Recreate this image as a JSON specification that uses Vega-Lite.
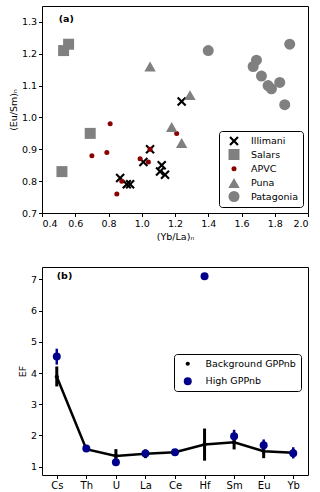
{
  "$schema": "https://vega.github.io/schema/vega-lite/v6.json",
  "padding": {"left": 7, "top": 5, "right": 6, "bottom": 2},
  "spacing": 25,
  "resolve": {"scale": {"color": "independent", "size": "independent", "shape": "independent"}, "legend": {"color": "independent", "size": "independent", "shape": "independent"}},
  "config": {
    "font": "DejaVu Sans",
    "view": {"stroke": "black", "strokeWidth": 1},
    "axis": {"grid": false, "domain": false, "tickColor": "black", "tickSize": 3.5, "labelColor": "black", "labelFontSize": 9.5, "titleFontSize": 9.5, "titleFontWeight": "normal", "titleColor": "black", "labelFont": "DejaVu Sans", "titleFont": "DejaVu Sans", "labelPadding": 2, "titlePadding": 3}
  },
  "vconcat": [
    {
      "width": 266,
      "height": 207,
      "data": {"values": [
        {"g": "Illimani", "x": 0.87, "y": 0.81},
        {"g": "Illimani", "x": 0.91, "y": 0.79},
        {"g": "Illimani", "x": 0.93, "y": 0.79},
        {"g": "Illimani", "x": 1.01, "y": 0.86},
        {"g": "Illimani", "x": 1.05, "y": 0.90},
        {"g": "Illimani", "x": 1.12, "y": 0.85},
        {"g": "Illimani", "x": 1.11, "y": 0.83},
        {"g": "Illimani", "x": 1.14, "y": 0.82},
        {"g": "Illimani", "x": 1.24, "y": 1.05},
        {"g": "Salars", "x": 0.53, "y": 1.21},
        {"g": "Salars", "x": 0.56, "y": 1.23},
        {"g": "Salars", "x": 0.69, "y": 0.95},
        {"g": "Salars", "x": 0.52, "y": 0.83},
        {"g": "APVC", "x": 0.81, "y": 0.98},
        {"g": "APVC", "x": 0.70, "y": 0.88},
        {"g": "APVC", "x": 0.79, "y": 0.89},
        {"g": "APVC", "x": 0.88, "y": 0.80},
        {"g": "APVC", "x": 0.85, "y": 0.76},
        {"g": "APVC", "x": 0.99, "y": 0.87},
        {"g": "APVC", "x": 1.04, "y": 0.86},
        {"g": "APVC", "x": 1.05, "y": 0.90},
        {"g": "APVC", "x": 1.21, "y": 0.95},
        {"g": "Puna", "x": 1.05, "y": 1.16},
        {"g": "Puna", "x": 1.29, "y": 1.07},
        {"g": "Puna", "x": 1.18, "y": 0.97},
        {"g": "Puna", "x": 1.24, "y": 0.92},
        {"g": "Patagonia", "x": 1.40, "y": 1.21},
        {"g": "Patagonia", "x": 1.89, "y": 1.23},
        {"g": "Patagonia", "x": 1.69, "y": 1.18},
        {"g": "Patagonia", "x": 1.67, "y": 1.16},
        {"g": "Patagonia", "x": 1.72, "y": 1.13},
        {"g": "Patagonia", "x": 1.76, "y": 1.10},
        {"g": "Patagonia", "x": 1.78, "y": 1.09},
        {"g": "Patagonia", "x": 1.83, "y": 1.11},
        {"g": "Patagonia", "x": 1.86, "y": 1.04}
      ]},
      "layer": [
        {
          "mark": {"type": "point", "filled": true, "opacity": 1},
          "encoding": {
            "x": {"field": "x", "type": "quantitative", "scale": {"domain": [0.4, 2.0], "nice": false, "zero": false}, "axis": {"values": [0.4, 0.6, 0.8, 1.0, 1.2, 1.4, 1.6, 1.8, 2.0], "format": ".1f", "title": "(Yb/La)ₙ"}},
            "y": {"field": "y", "type": "quantitative", "scale": {"domain": [0.7, 1.35], "nice": false, "zero": false}, "axis": {"values": [0.7, 0.8, 0.9, 1.0, 1.1, 1.2, 1.3], "format": ".1f", "title": "(Eu/Sm)ₙ"}},
            "shape": {"field": "g", "type": "nominal", "scale": {"domain": ["Illimani", "Salars", "APVC", "Puna", "Patagonia"], "range": ["M-1,-0.68L-0.68,-1L0,-0.32L0.68,-1L1,-0.68L0.32,0L1,0.68L0.68,1L0,0.32L-0.68,1L-1,0.68L-0.32,0Z", "square", "circle", "triangle-up", "circle"]},
              "legend": {"title": null, "orient": "none", "legendX": 177, "legendY": 125, "strokeColor": "black", "fillColor": "white", "cornerRadius": 3, "padding": 5, "symbolOffset": 4, "labelFontSize": 9.5, "labelColor": "black", "rowPadding": 3, "labelOffset": 11, "symbolStrokeWidth": 0}},
            "color": {"field": "g", "type": "nominal", "scale": {"domain": ["Illimani", "Salars", "APVC", "Puna", "Patagonia"], "range": ["black", "grey", "darkred", "grey", "grey"]},
              "legend": {"title": null, "orient": "none", "legendX": 177, "legendY": 125, "strokeColor": "black", "fillColor": "white", "cornerRadius": 3, "padding": 5, "symbolOffset": 4, "labelFontSize": 9.5, "labelColor": "black", "rowPadding": 3, "labelOffset": 11, "symbolStrokeWidth": 0}},
            "size": {"field": "g", "type": "nominal", "scale": {"type": "ordinal", "domain": ["Illimani", "Salars", "APVC", "Puna", "Patagonia"], "range": [90, 121, 25, 130, 121]},
              "legend": {"title": null, "orient": "none", "legendX": 177, "legendY": 125, "strokeColor": "black", "fillColor": "white", "cornerRadius": 3, "padding": 5, "symbolOffset": 4, "labelFontSize": 9.5, "labelColor": "black", "rowPadding": 3, "labelOffset": 11, "symbolStrokeWidth": 0}}
          }
        },
        {
          "data": {"values": [{"label": "(a)"}]},
          "mark": {"type": "text", "fontWeight": "bold", "align": "left", "baseline": "middle", "fontSize": 9.5, "fill": "black", "font": "DejaVu Sans"},
          "encoding": {
            "x": {"datum": 0.5, "type": "quantitative", "axis": {"values": [0.4, 0.6, 0.8, 1.0, 1.2, 1.4, 1.6, 1.8, 2.0], "format": ".1f", "title": "(Yb/La)ₙ"}},
            "y": {"datum": 1.309, "type": "quantitative", "axis": {"values": [0.7, 0.8, 0.9, 1.0, 1.1, 1.2, 1.3], "format": ".1f", "title": "(Eu/Sm)ₙ"}},
            "text": {"field": "label"}}
        }
      ]
    },
    {
      "width": 266,
      "height": 208,
      "data": {"values": [
        {"el": "Cs", "s": "Background GPPnb", "v": 3.88, "lo": 3.57, "hi": 4.21},
        {"el": "Th", "s": "Background GPPnb", "v": 1.56, "lo": 1.48, "hi": 1.63},
        {"el": "U", "s": "Background GPPnb", "v": 1.34, "lo": 1.12, "hi": 1.56},
        {"el": "La", "s": "Background GPPnb", "v": 1.41, "lo": 1.27, "hi": 1.55},
        {"el": "Ce", "s": "Background GPPnb", "v": 1.46, "lo": 1.38, "hi": 1.54},
        {"el": "Hf", "s": "Background GPPnb", "v": 1.71, "lo": 1.19, "hi": 2.22},
        {"el": "Sm", "s": "Background GPPnb", "v": 1.78, "lo": 1.55, "hi": 2.02},
        {"el": "Eu", "s": "Background GPPnb", "v": 1.49, "lo": 1.27, "hi": 1.71},
        {"el": "Yb", "s": "Background GPPnb", "v": 1.44, "lo": 1.31, "hi": 1.56},
        {"el": "Cs", "s": "High GPPnb", "v": 4.53, "lo": 4.27, "hi": 4.78},
        {"el": "Th", "s": "High GPPnb", "v": 1.58, "lo": 1.52, "hi": 1.64},
        {"el": "U", "s": "High GPPnb", "v": 1.14, "lo": 1.03, "hi": 1.25},
        {"el": "La", "s": "High GPPnb", "v": 1.42, "lo": 1.33, "hi": 1.52},
        {"el": "Ce", "s": "High GPPnb", "v": 1.46, "lo": 1.39, "hi": 1.53},
        {"el": "Hf", "s": "High GPPnb", "v": 7.10, "lo": 7.10, "hi": 7.10},
        {"el": "Sm", "s": "High GPPnb", "v": 1.97, "lo": 1.77, "hi": 2.18},
        {"el": "Eu", "s": "High GPPnb", "v": 1.68, "lo": 1.48, "hi": 1.87},
        {"el": "Yb", "s": "High GPPnb", "v": 1.43, "lo": 1.26, "hi": 1.62}
      ]},
      "encoding": {
        "x": {"field": "el", "type": "ordinal", "sort": ["Cs", "Th", "U", "La", "Ce", "Hf", "Sm", "Eu", "Yb"], "scale": {"type": "point", "padding": 0.5}, "axis": {"title": null, "labelAngle": 0, "labelFontSize": 10}},
        "y": {"field": "v", "type": "quantitative", "scale": {"domain": [0.73, 7.4], "nice": false, "zero": false}, "axis": {"values": [1, 2, 3, 4, 5, 6, 7], "title": "EF"}}
      },
      "layer": [
        {
          "transform": [{"filter": "datum.s === 'Background GPPnb'"}],
          "mark": {"type": "line", "color": "black", "strokeWidth": 2.5},
          "encoding": {}
        },
        {
          "transform": [{"filter": "datum.s === 'Background GPPnb'"}],
          "mark": {"type": "rule", "color": "black", "strokeWidth": 3},
          "encoding": {"y": {"field": "lo", "type": "quantitative"}, "y2": {"field": "hi"}}
        },
        {
          "transform": [{"filter": "datum.s === 'High GPPnb'"}],
          "mark": {"type": "rule", "color": "#00008b", "strokeWidth": 2.5},
          "encoding": {"y": {"field": "lo", "type": "quantitative"}, "y2": {"field": "hi"}}
        },
        {
          "mark": {"type": "point", "filled": true, "opacity": 1},
          "encoding": {
            "color": {"field": "s", "type": "nominal", "scale": {"domain": ["Background GPPnb", "High GPPnb"], "range": ["black", "#00008b"]},
              "legend": {"title": null, "orient": "none", "legendX": 132, "legendY": 87, "strokeColor": "black", "fillColor": "white", "cornerRadius": 3, "padding": 5, "symbolOffset": 4, "labelFontSize": 9.5, "labelColor": "black", "rowPadding": 6.5, "labelOffset": 13, "symbolStrokeWidth": 0}},
            "size": {"field": "s", "type": "nominal", "scale": {"type": "ordinal", "domain": ["Background GPPnb", "High GPPnb"], "range": [18, 64]},
              "legend": {"title": null, "orient": "none", "legendX": 132, "legendY": 87, "strokeColor": "black", "fillColor": "white", "cornerRadius": 3, "padding": 5, "symbolOffset": 4, "labelFontSize": 9.5, "labelColor": "black", "rowPadding": 6.5, "labelOffset": 13, "symbolStrokeWidth": 0}}
          }
        },
        {
          "transform": [{"filter": "datum.el === 'Hf' && datum.s === 'High GPPnb'"}],
          "mark": {"type": "text", "fontWeight": "bold", "align": "left", "baseline": "middle", "fontSize": 9.5, "fill": "black", "font": "DejaVu Sans"},
          "encoding": {"x": {"datum": "Cs", "type": "ordinal"}, "y": {"datum": 7.1, "type": "quantitative"}, "text": {"value": "(b)"}}
        }
      ]
    }
  ]
}
